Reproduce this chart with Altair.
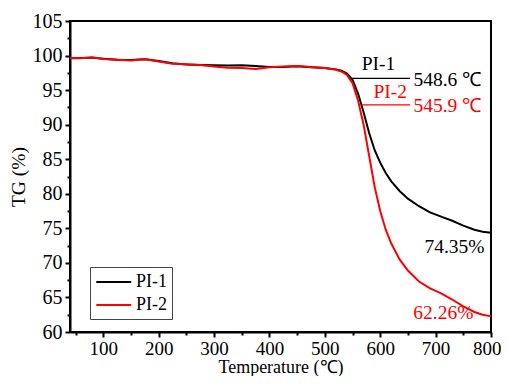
import altair as alt
import pandas as pd

temps = [40, 60, 80, 100, 125, 150, 175, 200, 225, 250, 275, 300, 325, 350, 375, 400,
         425, 450, 475, 500, 520, 530, 540, 550, 560, 570, 580, 590, 600, 610, 620, 635,
         650, 670, 690, 710, 730, 750, 770, 785, 800]
pi1 = [99.6, 99.65, 99.7, 99.55, 99.4, 99.35, 99.45, 99.2, 98.9, 98.7, 98.65, 98.6, 98.55,
       98.6, 98.5, 98.35, 98.35, 98.45, 98.3, 98.2, 98.0, 97.8, 97.4, 96.5, 94.5, 91.8,
       88.8, 86.3, 84.5, 83.0, 81.8, 80.4, 79.3, 78.2, 77.3, 76.7, 76.1, 75.4, 74.8, 74.5, 74.35]
pi2 = [99.65, 99.6, 99.75, 99.5, 99.4, 99.3, 99.5, 99.15, 98.8, 98.75, 98.65, 98.4, 98.25,
       98.2, 98.05, 98.3, 98.4, 98.5, 98.35, 98.2, 97.95, 97.7, 97.2, 96.0, 93.5, 90.0,
       85.5, 81.0, 77.5, 74.8, 72.8, 70.5, 68.9, 67.3, 66.3, 65.6, 64.7, 63.7, 62.9, 62.5, 62.26]
series = ["PI-1", "PI-2"]
colors = ["#000000", "#ff0000"]

x_ticks = list(range(50, 801, 50))
y_ticks = [60 + 2.5 * i for i in range(19)]

rows = []
for t, a, b in zip(temps, pi1, pi2):
    rows.append({"T": t, "TG": a, "s": "PI-1"})
    rows.append({"T": t, "TG": b, "s": "PI-2"})
df = pd.DataFrame(rows)

FONT = "Liberation Serif, Times New Roman, serif"

xscale = alt.Scale(domain=[40, 800], nice=False, zero=False)
yscale = alt.Scale(domain=[60, 105], nice=False, zero=False)
cscale = alt.Scale(domain=series, range=colors)

xaxis = alt.Axis(values=x_ticks, labelExpr="datum.value % 100 === 0 ? datum.label : ''",
                 tickSize={"condition": {"test": "datum.value % 100 === 0", "value": 5}, "value": 3},
                 labelOverlap=False, labelFlush=True, labelFlushOffset=10,
                 labelFont=FONT, labelFontSize=19, labelPadding=2,
                 title="Temperature (\u2103)", titleFontSize=18,
                 titleBaseline="alphabetic", titleY=40)
yaxis = alt.Axis(values=y_ticks, labelExpr="datum.value % 5 === 0 ? datum.label : ''",
                 tickSize={"condition": {"test": "datum.value % 5 === 0", "value": 5}, "value": 3},
                 labelOverlap=False, labelFlush=False, labelFont=FONT, labelFontSize=20,
                 labelPadding=3, title="TG (%)", titlePadding=4)

legend = alt.Legend(title=None, orient="none", legendX=20, legendY=246,
                    strokeColor="#444444", padding=5, symbolType="M-1,0H3",
                    symbolSize=306, symbolStrokeWidth=2, labelFontSize=18,
                    labelFont=FONT, rowPadding=4, labelOffset=21)

lines = alt.Chart(df).mark_line(strokeWidth=2).encode(
    x=alt.X("T:Q", scale=xscale, axis=xaxis),
    y=alt.Y("TG:Q", scale=yscale, axis=yaxis),
    color=alt.Color("s:N", scale=cscale, legend=legend),
)

# annotation leader lines
lead_x1 = [548.6, 567]
lead_x2 = [654, 654]
lead_y = [96.7, 92.85]
lead_df = pd.DataFrame({"T": lead_x1, "x2": lead_x2, "TG": lead_y, "s": series})
leads = alt.Chart(lead_df).mark_rule(strokeWidth=1.3).encode(
    x=alt.X("T:Q", scale=xscale, axis=xaxis), x2="x2:Q",
    y=alt.Y("TG:Q", scale=yscale, axis=yaxis),
    color=alt.Color("s:N", scale=cscale, legend=legend),
)

name_x = [597, 618]
name_y = [97.3, 93.3]
name_df = pd.DataFrame({"T": name_x, "TG": name_y, "t": series, "s": series})
names = alt.Chart(name_df).mark_text(font=FONT, fontSize=19.5, baseline="bottom", align="center").encode(
    x=alt.X("T:Q", scale=xscale, axis=xaxis), y=alt.Y("TG:Q", scale=yscale, axis=yaxis), text="t:N",
    color=alt.Color("s:N", scale=cscale, legend=legend),
)

temp_labels = ["548.6 \u2103", "545.9 \u2103"]
temp_x = [660, 660]
temp_y = [96.5, 92.7]
temp_df = pd.DataFrame({"T": temp_x, "TG": temp_y, "t": temp_labels, "s": series})
temps_txt = alt.Chart(temp_df).mark_text(font=FONT, fontSize=19.5, baseline="middle", align="left").encode(
    x=alt.X("T:Q", scale=xscale, axis=xaxis), y=alt.Y("TG:Q", scale=yscale, axis=yaxis), text="t:N",
    color=alt.Color("s:N", scale=cscale, legend=legend),
)

res_labels = ["74.35%", "62.26%"]
res_x = [734, 714]
res_y = [72.3, 62.8]
res_df = pd.DataFrame({"T": res_x, "TG": res_y, "t": res_labels, "s": series})
res_txt = alt.Chart(res_df).mark_text(font=FONT, fontSize=19.5, baseline="middle", align="center").encode(
    x=alt.X("T:Q", scale=xscale, axis=xaxis), y=alt.Y("TG:Q", scale=yscale, axis=yaxis), text="t:N",
    color=alt.Color("s:N", scale=cscale, legend=legend),
)

chart = alt.layer(lines, leads, names, temps_txt, res_txt).properties(
    width=421, height=311,
    autosize=alt.AutoSizeParams(type="none"),
    padding={"left": 62, "top": 13, "right": 10, "bottom": 44},
    background="white",
).configure_view(
    stroke="black", strokeWidth=2
).configure_axis(
    grid=False, domainColor="black", domainWidth=2, tickColor="black", tickWidth=2,
    labelFont=FONT, labelFontSize=20, labelColor="black",
    titleFont=FONT, titleFontSize=19.5, titleFontWeight="normal", titleColor="black",
)

chart.save("out.html", embed_options={"renderer": "svg", "actions": False})
